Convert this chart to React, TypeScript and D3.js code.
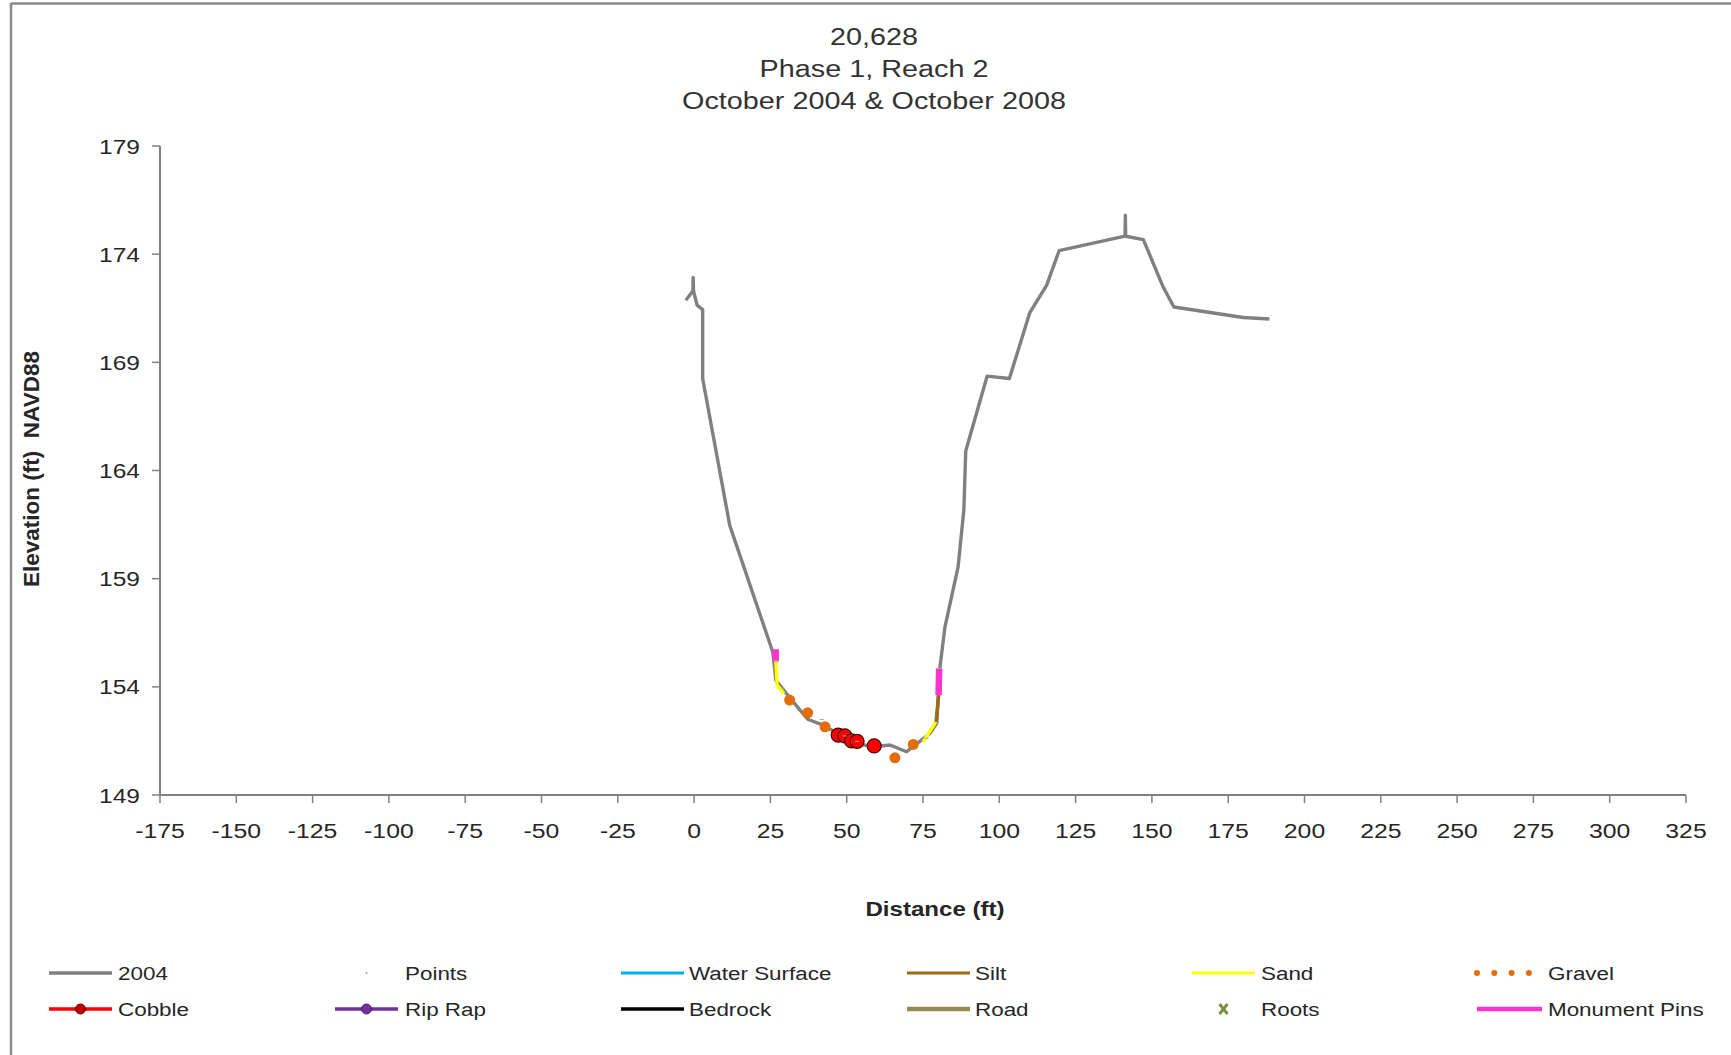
import React from "react";
import * as d3 from "d3";

// ---------- data ----------
const titleLines = ["20,628", "Phase 1, Reach 2", "October 2004 & October 2008"];
const xTicks = [-175, -150, -125, -100, -75, -50, -25, 0, 25, 50, 75, 100, 125, 150, 175, 200, 225, 250, 275, 300, 325];
const yTicks = [149, 154, 159, 164, 169, 174, 179];
const xLabel = "Distance (ft)";
const yLabel = "Elevation (ft)\u00A0 NAVD88";

// 2004 survey profile [distance, elevation]
const profile2004: [number, number][] = [
  [-2.7, 171.87], [-0.4, 172.3], [-0.3, 172.92], [-0.2, 172.3], [1.0, 171.64], [2.8, 171.44],
  [2.8, 168.25], [11.7, 161.45], [25.8, 155.6], [26.8, 154.31], [29.8, 153.77], [34.7, 152.92],
  [37.4, 152.49], [42.3, 152.23], [46.7, 151.87], [54.3, 151.35], [58.7, 151.23], [64.2, 151.31],
  [69.6, 151.0], [77.3, 151.85], [79.5, 152.31], [80.0, 153.54], [80.5, 154.85], [82.2, 156.77],
  [86.5, 159.55], [88.4, 162.2], [89.0, 164.9], [96.0, 168.36], [103.3, 168.25], [110.0, 171.3],
  [115.5, 172.56], [119.6, 174.16], [141.2, 174.83], [141.3, 175.8], [141.4, 174.83], [147.2, 174.67],
  [153.7, 172.48], [157.2, 171.56], [179.9, 171.07], [188.5, 171.0],
];
const pointsSeries: [number, number][] = [
  [26.8, 155.2], [29.1, 153.94], [41.8, 152.49], [49.4, 151.73], [53.4, 151.48], [76.2, 151.62], [80.3, 154.85],
];
const sandLeft: [number, number][] = [[26.8, 155.2], [27.2, 154.08], [29.4, 153.7]];
const sandRight: [number, number][] = [[75.1, 151.46], [79.2, 152.38]];
const silt: [number, number][] = [[79.3, 152.38], [80.1, 153.62]];
const pinsLeft: [number, number][] = [[26.7, 155.17], [26.75, 155.74]];
const pinsRight: [number, number][] = [[80.1, 153.62], [80.3, 154.85]];
const gravel: [number, number][] = [[31.3, 153.39], [37.2, 152.8], [42.9, 152.15], [65.8, 150.72], [71.8, 151.34]];
const cobble: [number, number][] = [[47.2, 151.77], [49.4, 151.73], [51.6, 151.5], [53.4, 151.48], [59.0, 151.27]];

const legendRow1 = ["2004", "Points", "Water Surface", "Silt", "Sand", "Gravel"];
const legendRow2 = ["Cobble", "Rip Rap", "Bedrock", "Road", "Roots", "Monument Pins"];

// ---------- layout ----------
const W = 1731;
const H = 1055;
const SX = 1.18; // horizontal text stretch of the reference
const FONT = "'Liberation Sans', Arial, sans-serif";
const GRAY = "#808080";

const x = d3.scaleLinear().domain([-175, 325]).range([160, 1686]);
const y = d3.scaleLinear().domain([149, 179]).range([795, 146]);
const line = d3.line<[number, number]>().x((d) => x(d[0])).y((d) => y(d[1]));

function T(props: {
  x: number; y: number; children: React.ReactNode; size: number; anchor?: string; weight?: string; fill?: string;
}) {
  return (
    <text
      transform={`translate(${props.x},${props.y}) scale(${SX},1)`}
      fontSize={props.size}
      textAnchor={props.anchor || "start"}
      fontWeight={props.weight || "normal"}
      fill={props.fill || "#262626"}
      fontFamily={FONT}
    >
      {props.children}
    </text>
  );
}

const legendCols = [49, 335, 621, 907, 1192, 1477];
const legendTextX = [118, 405, 689, 975, 1261, 1548];
const rowY = [973, 1009];
const rowBase = [980, 1016];

function LegendKey({ name, col, row }: { name: string; col: number; row: number }) {
  const x0 = legendCols[col];
  const x1 = x0 + 63;
  const cy = rowY[row];
  const mid = (x0 + x1) / 2;
  switch (name) {
    case "2004":
      return <line x1={x0} x2={x1} y1={cy} y2={cy} stroke={GRAY} strokeWidth={3.5} />;
    case "Points":
      return <line x1={mid - 1} x2={mid + 1} y1={cy} y2={cy} stroke="#999" strokeWidth={1.5} />;
    case "Water Surface":
      return <line x1={x0} x2={x1} y1={cy} y2={cy} stroke="#00B0F0" strokeWidth={3} />;
    case "Silt":
      return <line x1={x0} x2={x1} y1={cy} y2={cy} stroke="#9B6A12" strokeWidth={3} />;
    case "Sand":
      return <line x1={x0} x2={x1} y1={cy} y2={cy} stroke="#FFFF00" strokeWidth={3} />;
    case "Gravel":
      return (
        <g>
          {[0, 1, 2, 3].map((i) => (
            <circle key={i} cx={x0 + i * 17.3} cy={cy} r={3} fill="#E46C0A" />
          ))}
        </g>
      );
    case "Cobble":
      return (
        <g>
          <line x1={x0} x2={x1} y1={cy} y2={cy} stroke="#FF0000" strokeWidth={3.5} />
          <circle cx={mid} cy={cy} r={5} fill="#C00000" stroke="#600000" strokeWidth={1} />
        </g>
      );
    case "Rip Rap":
      return (
        <g>
          <line x1={x0} x2={x1} y1={cy} y2={cy} stroke="#7030A0" strokeWidth={3.5} />
          <circle cx={mid} cy={cy} r={5} fill="#7030A0" stroke="#4a1d70" strokeWidth={1} />
        </g>
      );
    case "Bedrock":
      return <line x1={x0} x2={x1} y1={cy} y2={cy} stroke="#000" strokeWidth={3.5} />;
    case "Road":
      return <line x1={x0} x2={x1} y1={cy} y2={cy} stroke="#948A54" strokeWidth={4.5} />;
    case "Roots":
      return (
        <g stroke="#77933C" strokeWidth={3}>
          <line x1={mid - 4} x2={mid + 4} y1={cy - 5} y2={cy + 5} />
          <line x1={mid + 4} x2={mid - 4} y1={cy - 5} y2={cy + 5} />
        </g>
      );
    case "Monument Pins":
      return <line x1={x0} x2={x1 + 2} y1={cy} y2={cy} stroke="#FF33CC" strokeWidth={4.5} />;
  }
  return null;
}

export default function App() {
  return (
    <svg width={W} height={H} style={{ position: "absolute", left: 0, top: 0, display: "block", background: "#fff" }}>
      <rect x={0} y={0} width={W} height={H} fill="#fff" />
      {/* outer chart frame */}
      <line x1={11} x2={W} y1={3.5} y2={3.5} stroke="#8a8a8a" strokeWidth={2.5} />
      <line x1={11} x2={11} y1={3} y2={H} stroke="#8a8a8a" strokeWidth={2.5} />

      {/* title */}
      {titleLines.map((t, i) => (
        <T key={t} x={874} y={45 + i * 32} size={24.4} anchor="middle" fill="#333">
          {t}
        </T>
      ))}

      {/* axes */}
      <line x1={x(-175)} x2={x(-175)} y1={y(179)} y2={y(149)} stroke={GRAY} strokeWidth={2} />
      {yTicks.map((t) => (
        <g key={"y" + t}>
          <line x1={x(-175) - 8} x2={x(-175)} y1={y(t)} y2={y(t)} stroke={GRAY} strokeWidth={1.5} />
          <T x={140} y={y(t) + 7.5} size={20.8} anchor="end">
            {t}
          </T>
        </g>
      ))}
      <line x1={x(-175)} x2={x(325)} y1={y(149)} y2={y(149)} stroke={GRAY} strokeWidth={2} />
      {xTicks.map((t) => (
        <g key={"x" + t}>
          <line x1={x(t)} x2={x(t)} y1={y(149)} y2={y(149) + 8} stroke={GRAY} strokeWidth={1.5} />
          <T x={x(t)} y={837.5} size={21} anchor="middle">
            {t}
          </T>
        </g>
      ))}
      <T x={935} y={916} size={20.4} anchor="middle" weight="bold">
        {xLabel}
      </T>
      <text
        transform="translate(39,469) rotate(-90)"
        fontSize={22.5}
        fontWeight="bold"
        textAnchor="middle"
        fill="#262626"
        fontFamily={FONT}
      >
        {yLabel}
      </text>

      {/* series */}
      <path d={line(profile2004) || ""} fill="none" stroke={GRAY} strokeWidth={3.4} strokeLinejoin="round" />
      <path d={line(sandLeft) || ""} fill="none" stroke="#FFFF00" strokeWidth={3.5} />
      <path d={line(sandRight) || ""} fill="none" stroke="#FFFF00" strokeWidth={3.5} />
      <path d={line(silt) || ""} fill="none" stroke="#9B6A12" strokeWidth={3.5} />
      <path d={line(pinsLeft) || ""} fill="none" stroke="#FF33CC" strokeWidth={6.5} />
      <path d={line(pinsRight) || ""} fill="none" stroke="#FF33CC" strokeWidth={6.5} />
      {gravel.map((p, i) => (
        <circle key={"g" + i} cx={x(p[0])} cy={y(p[1])} r={5.5} fill="#E46C0A" />
      ))}
      {cobble.map((p, i) => (
        <circle key={"c" + i} cx={x(p[0])} cy={y(p[1])} r={7} fill="#FF0000" stroke="#4a0000" strokeWidth={1.2} />
      ))}
      {pointsSeries.map((p, i) => (
        <line key={"p" + i} x1={x(p[0]) - 2} x2={x(p[0]) + 2} y1={y(p[1])} y2={y(p[1])} stroke="#aaa" strokeWidth={1} />
      ))}

      {/* legend */}
      {[legendRow1, legendRow2].map((row, r) =>
        row.map((name, c) => (
          <g key={name}>
            <LegendKey name={name} col={c} row={r} />
            <T x={legendTextX[c]} y={rowBase[r]} size={19} fill="#262626">
              {name}
            </T>
          </g>
        ))
      )}
    </svg>
  );
}
